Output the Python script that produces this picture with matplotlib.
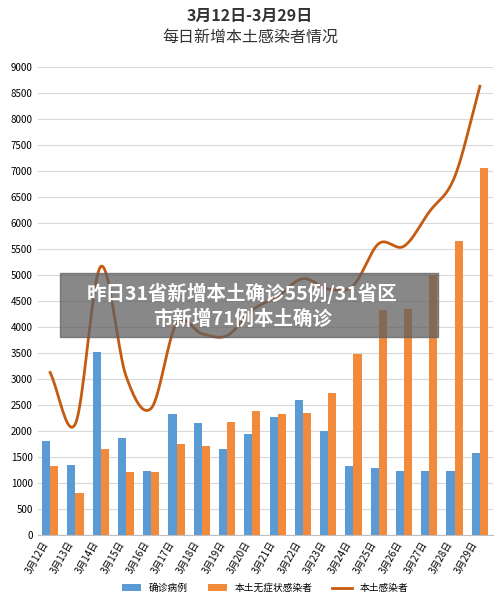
import matplotlib
matplotlib.use("Agg")
import matplotlib.pyplot as plt
import numpy as np

plt.rcParams['font.family'] = ['Noto Sans CJK SC', 'DejaVu Sans']

dates = ["3月12日","3月13日","3月14日","3月15日","3月16日","3月17日","3月18日","3月19日","3月20日",
         "3月21日","3月22日","3月23日","3月24日","3月25日","3月26日","3月27日","3月28日","3月29日"]
confirmed = [1807,1338,3507,1860,1228,2328,2157,1656,1947,2273,2591,2000,1315,1284,1217,1219,1228,1565]
asymptomatic = [1315,798,1656,1198,1206,1737,1714,2175,2378,2313,2338,2728,3487,4320,4337,4998,5656,7068]
total = [3122,2136,5163,3058,2434,4065,3871,3831,4325,4586,4929,4728,4802,5604,5554,6217,6884,8633]

blue = "#5b9bd5"; orange = "#f28a3c"; line_c = "#c55a11"

fig = plt.figure(figsize=(5.0, 6.11), dpi=100)
ax = fig.add_axes([0.075, 0.125, 0.91, 0.765])
x = np.arange(len(dates))
w = 0.32
b1 = ax.bar(x - w/2, confirmed, w, color=blue, label="确诊病例", zorder=2)
b2 = ax.bar(x + w/2, asymptomatic, w, color=orange, label="本土无症状感染者", zorder=2)

def catmull(xs, ys, n=20):
    xs = np.asarray(xs, float); ys = np.asarray(ys, float)
    P = np.vstack([xs, ys]).T
    P = np.vstack([2*P[0]-P[1], P, 2*P[-1]-P[-2]])
    out = []
    for i in range(1, len(P)-2):
        p0, p1, p2, p3 = P[i-1], P[i], P[i+1], P[i+2]
        for t in np.linspace(0, 1, n, endpoint=False):
            t2, t3 = t*t, t*t*t
            out.append(0.5*((2*p1) + (-p0+p2)*t + (2*p0-5*p1+4*p2-p3)*t2 + (-p0+3*p1-3*p2+p3)*t3))
    out.append(P[-2])
    out = np.array(out)
    return out[:, 0], out[:, 1]
sx, sy = catmull(x, total)
l1, = ax.plot(sx, sy, color=line_c, lw=2, label="本土感染者", zorder=3)

ax.set_ylim(0, 9000)
ax.set_yticks(np.arange(0, 9001, 500))
ax.set_xlim(-0.5, len(dates)-0.5)
ax.set_xticks(x)
ax.set_xticklabels(dates, rotation=60, ha='right', fontsize=7)
ax.tick_params(axis='y', labelsize=7, length=0)
ax.tick_params(axis='x', length=0)
ax.grid(axis='y', color='#d9d9d9', lw=0.8, zorder=0)
for s in ['top', 'right', 'left']:
    ax.spines[s].set_visible(False)
ax.spines['bottom'].set_color('#bfbfbf')

fig.text(0.5, 0.965, "3月12日-3月29日", ha='center', fontsize=11.5, color='#333333', fontweight='bold')
fig.text(0.5, 0.93, "每日新增本土感染者情况", ha='center', fontsize=11.5, color='#333333')

ax.legend([b1, b2, l1], ["确诊病例", "本土无症状感染者", "本土感染者"],
          loc='upper center', bbox_to_anchor=(0.5, -0.085), ncol=3, frameon=False, fontsize=7)

fig.patches.append(plt.Rectangle((0.12, 0.448), 0.755, 0.105, transform=fig.transFigure,
                                 color='#606060', alpha=0.75, zorder=5))
fig.text(0.485, 0.52, "昨日31省新增本土确诊55例/31省区", ha='center', va='center',
         fontsize=14, color='white', fontweight='bold', zorder=6)
fig.text(0.485, 0.477, "市新增71例本土确诊", ha='center', va='center',
         fontsize=14, color='white', fontweight='bold', zorder=6)

fig.savefig("out.png", dpi=100)
